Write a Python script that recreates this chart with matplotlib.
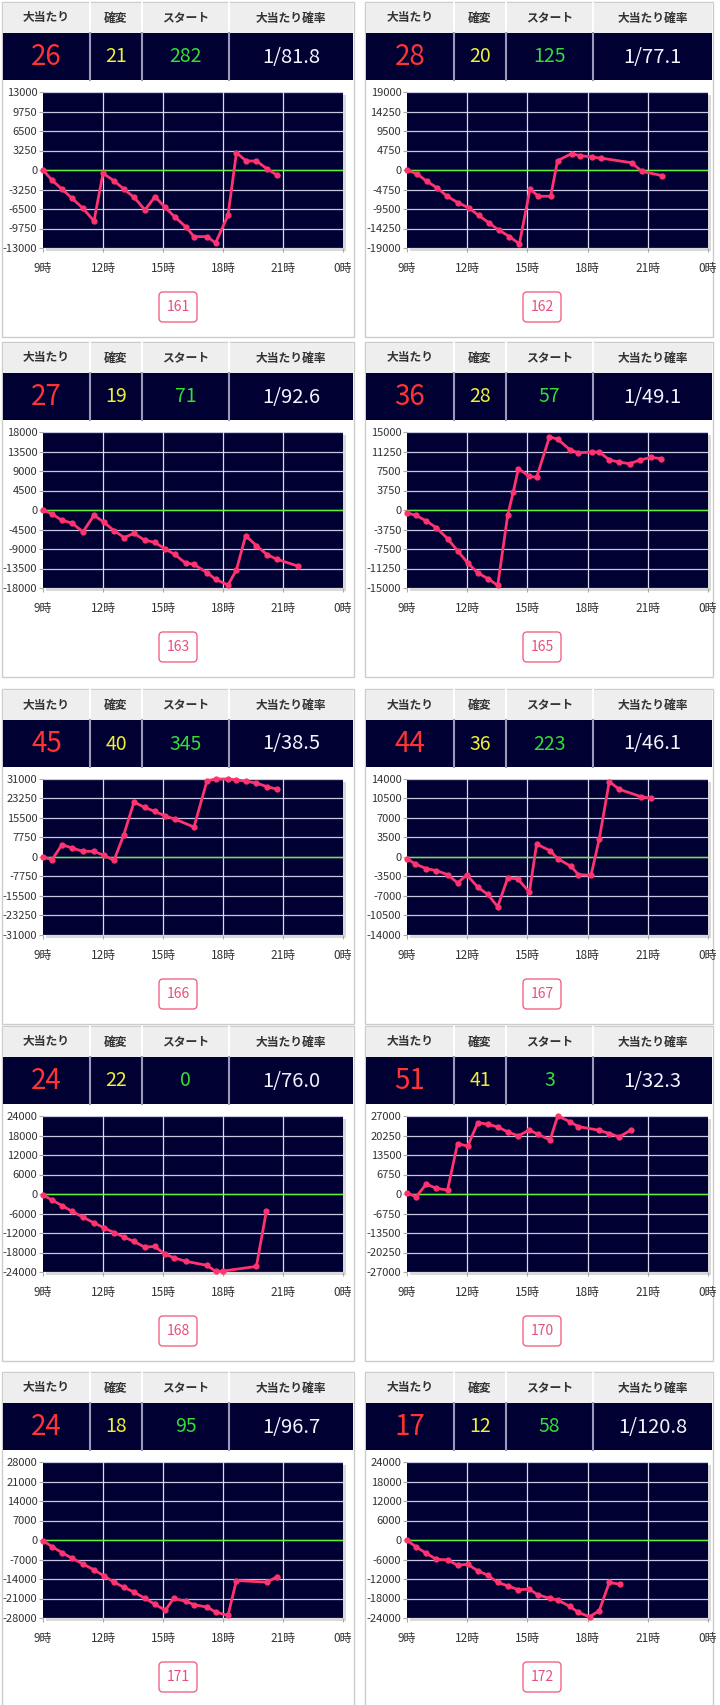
import matplotlib
matplotlib.use('Agg')
import matplotlib.pyplot as plt
from matplotlib.patches import Rectangle, FancyBboxPatch

plt.rcParams['font.family'] = ['Noto Sans CJK JP', 'DejaVu Sans']
plt.rcParams['axes.unicode_minus'] = False

# 台番号と集計値
machine_ids = [161, 162, 163, 165, 166, 167, 168, 170, 171, 172]
big_hits = [26, 28, 27, 36, 45, 44, 24, 51, 24, 17]
kakuhen = [21, 20, 19, 28, 40, 36, 22, 41, 18, 12]
starts = [282, 125, 71, 57, 345, 223, 0, 3, 95, 58]
hit_rates = ['1/81.8', '1/77.1', '1/92.6', '1/49.1', '1/38.5',
             '1/46.1', '1/76.0', '1/32.3', '1/96.7', '1/120.8']
y_limits = [13000, 19000, 18000, 15000, 31000, 14000, 24000, 27000, 28000, 24000]
col_labels = ['大当たり', '確変', 'スタート', '大当たり確率']
hour_ticks = [9, 12, 15, 18, 21, 24]
hour_labels = ['9時', '12時', '15時', '18時', '21時', '0時']

# グラフの点 (時刻, 差枚)
hours_161 = [9.0, 9.45, 9.95, 10.45, 11.0, 11.55, 12.0, 12.55, 13.05, 13.55, 14.1, 14.6,
             15.1, 15.6, 16.15, 16.55, 17.2, 17.63, 18.25, 18.67, 19.17, 19.67, 20.2, 20.72]
vals_161 = [0, -1700, -3200, -4700, -6400, -8500, -550, -1800, -3200, -4550, -6650, -4450,
            -6200, -7850, -9500, -11100, -11100, -12150, -7550, 2850, 1500, 1500, 200, -900]

hours_162 = [9.0, 9.5, 10.0, 10.5, 11.0, 11.55, 12.07, 12.57, 13.07, 13.56, 14.1, 14.6,
             15.13, 15.55, 16.16, 16.5, 17.2, 17.6, 18.24, 18.66, 20.2, 20.7, 21.7]
vals_162 = [0, -960, -2800, -4330, -6400, -8000, -9200, -11060, -12830, -14600, -16200, -18000,
            -4650, -6400, -6400, 2250, 4000, 3530, 3130, 2900, 1760, -320, -1360]

hours_163 = [9.0, 9.45, 9.95, 10.45, 11.0, 11.55, 12.05, 12.55, 13.05, 13.55, 14.08, 14.58,
             15.08, 15.58, 16.13, 16.53, 17.2, 17.63, 18.25, 18.67, 19.13, 19.67, 20.2, 20.72, 21.75]
vals_163 = [0, -900, -2400, -3000, -5050, -1200, -2850, -4750, -6350, -5400, -6950, -7450,
            -8900, -10250, -12250, -12500, -14450, -16000, -17300, -13850, -5950, -8200,
            -10300, -11400, -12950]

hours_165 = [9.0, 9.46, 9.96, 10.46, 11.02, 11.52, 12.03, 12.53, 13.03, 13.52, 14.02, 14.3,
             14.55, 15.1, 15.46, 16.1, 16.5, 17.12, 17.53, 18.2, 18.58, 19.08, 19.58, 20.1,
             20.63, 21.15, 21.68]
vals_165 = [-550, -1050, -2100, -3400, -5500, -7850, -10200, -12100, -13200, -14500, -950, 3550,
            7950, 6450, 6300, 14050, 13650, 11600, 11000, 11150, 11150, 9650, 9200, 8900,
            9650, 10100, 9900]

hours_166 = [9.0, 9.45, 9.95, 10.45, 11.0, 11.55, 12.05, 12.55, 13.03, 13.55, 14.08, 14.58,
             15.08, 15.58, 16.55, 17.2, 17.63, 18.25, 18.67, 19.17, 19.67, 20.2, 20.72]
vals_166 = [0, -1060, 4900, 3580, 2250, 2250, 660, -1320, 8600, 21850, 19700, 18150,
            16400, 15100, 11900, 30300, 31000, 31000, 30700, 30050, 29400, 27950, 26900]

hours_167 = [9.0, 9.41, 9.96, 10.46, 11.02, 11.52, 11.98, 12.53, 13.03, 13.52, 14.02, 14.52,
             15.1, 15.46, 16.13, 16.51, 17.17, 17.54, 18.17, 18.58, 19.08, 19.58, 20.65, 21.15]
vals_167 = [-300, -1250, -2080, -2440, -3160, -4650, -3220, -5420, -6730, -8930, -3750, -3930,
            -6310, 2320, 1130, -300, -1670, -3160, -3280, 3220, 13520, 12150, 10840, 10540]

hours_168 = [9.0, 9.45, 9.95, 10.45, 11.0, 11.55, 12.05, 12.55, 13.03, 13.55, 14.08, 14.58,
             15.08, 15.53, 16.17, 17.2, 17.63, 18.0, 19.67, 20.17]
vals_168 = [-300, -1840, -3580, -5310, -7150, -8890, -10420, -11850, -13180, -14610, -16340, -16140,
            -18390, -19610, -20740, -21960, -23800, -23700, -22300, -5200]

hours_170 = [9.0, 9.46, 9.96, 10.46, 11.02, 11.52, 12.02, 12.53, 13.03, 13.52, 14.02, 14.55,
             15.1, 15.51, 16.13, 16.51, 17.12, 17.53, 18.58, 19.08, 19.58, 20.14]
vals_170 = [230, -920, 3450, 1950, 1380, 17470, 16550, 24700, 24140, 23220, 21490, 20110,
            22180, 20690, 18730, 27000, 25040, 23330, 22070, 20920, 19770, 22070]

hours_171 = [9.0, 9.45, 9.95, 10.45, 11.0, 11.55, 12.05, 12.55, 13.03, 13.55, 14.08, 14.58,
             15.12, 15.53, 16.17, 16.55, 17.2, 17.63, 18.25, 18.67, 20.2, 20.72]
vals_171 = [-240, -2380, -4530, -6560, -8580, -10730, -12870, -15140, -16920, -18710, -20860, -23000,
            -25270, -20980, -22050, -23240, -24080, -25870, -27060, -14540, -15140, -13110]

hours_172 = [9.0, 9.46, 9.96, 10.46, 11.02, 11.52, 12.02, 12.53, 13.03, 13.52, 14.02, 14.55,
             15.1, 15.51, 16.13, 16.51, 17.12, 17.53, 18.1, 18.58, 19.08, 19.61]
vals_172 = [-100, -2150, -4090, -5920, -6130, -7760, -7460, -9500, -10830, -13070, -14100, -15320,
            -15120, -16850, -17980, -18490, -20430, -22270, -23600, -21760, -13070, -13590]

series = [(hours_161, vals_161), (hours_162, vals_162), (hours_163, vals_163),
          (hours_165, vals_165), (hours_166, vals_166), (hours_167, vals_167),
          (hours_168, vals_168), (hours_170, vals_170), (hours_171, vals_171),
          (hours_172, vals_172)]

W, H = 720, 1705
fig = plt.figure(figsize=(W / 100, H / 100), dpi=100)
bg = fig.add_axes([0, 0, 1, 1])
bg.set_xlim(0, W)
bg.set_ylim(H, 0)
bg.axis('off')

row_tops = [2, 342, 689, 1026, 1372]
columns = [
    dict(x0=2, x1=354, divs=[90, 142, 229], px0=43, px1=343, box_cx=178),
    dict(x0=365, x1=713, divs=[454, 506, 593], px0=407, px1=708, box_cx=542),
]
navy = '#000033'
value_styles = [dict(color='#ff3333', size=20), dict(color='#eeee33', size=14),
                dict(color='#33dd33', size=14), dict(color='#f4f4ff', size=14.5)]

for i, mid in enumerate(machine_ids):
    top = row_tops[i // 2]
    c = columns[i % 2]
    x0, x1 = c['x0'], c['x1']

    # 枠
    bg.add_patch(Rectangle((x0, top), x1 - x0, 335, fc='white', ec='#cccccc', lw=1))
    # 見出し行
    bg.add_patch(Rectangle((x0 + 1, top + 1), x1 - x0 - 2, 30, fc='#eeeeee', ec='none'))
    bg.add_patch(Rectangle((x0 + 1, top + 31), x1 - x0 - 2, 47, fc=navy, ec='none'))
    for d in c['divs']:
        bg.plot([d, d], [top + 1, top + 31], color='white', lw=1.5)
        bg.plot([d, d], [top + 31, top + 78], color='#9a9abb', lw=1.5)
    edges = [x0 + 1] + c['divs'] + [x1 - 1]
    vals = [big_hits[i], kakuhen[i], starts[i], hit_rates[i]]
    for k in range(4):
        cx = (edges[k] + edges[k + 1]) / 2
        bg.text(cx, top + 16, col_labels[k], ha='center', va='center',
                fontsize=8.5, fontweight='bold', color='#333333')
        st = value_styles[k]
        bg.text(cx, top + 55, str(vals[k]), ha='center', va='center',
                fontsize=st['size'], color=st['color'])

    # グラフ
    px0, px1 = c['px0'], c['px1']
    py0, py1 = top + 90, top + 246
    bg.add_patch(Rectangle((px0 + 3, py0 + 3), px1 - px0, py1 - py0, fc='#d9d9d9', ec='none'))
    ax = fig.add_axes([px0 / W, 1 - py1 / H, (px1 - px0) / W, (py1 - py0) / H])
    ax.set_facecolor(navy)
    ymax = y_limits[i]
    yt = [ymax * (k - 4) / 4 for k in range(9)]
    ax.set_xlim(9, 24)
    ax.set_ylim(-ymax, ymax)
    ax.set_yticks(yt)
    ax.set_yticklabels([str(int(v)) for v in yt])
    ax.set_xticks(hour_ticks)
    ax.set_xticklabels(hour_labels)
    for v in yt:
        ax.axhline(v, color='#c8c8e2', lw=0.9, zorder=1)
    for h in hour_ticks[1:-1]:
        ax.axvline(h, color='#dcdcf0', lw=0.9, zorder=1)
    ax.axhline(0, color='#66ee33', lw=1.0, zorder=2)
    hrs, ys = series[i]
    ax.plot(hrs, ys, color='#ff3370', lw=2.0, marker='o', ms=3.5, zorder=3, clip_on=False)
    for s in ax.spines.values():
        s.set_visible(False)
    ax.tick_params(axis='y', length=3, pad=1, labelsize=8, colors='#333333', color='#aaaaaa')
    ax.tick_params(axis='x', length=3, pad=7, labelsize=8.5, colors='#333333', color='#aaaaaa')

    # 台番号ボタン
    bx = c['box_cx']
    bg.add_patch(FancyBboxPatch((bx - 19, top + 290), 38, 30,
                                boxstyle='round,pad=0,rounding_size=4',
                                fc='white', ec='#f06585', lw=1))
    bg.text(bx, top + 305, str(mid), ha='center', va='center', fontsize=10, color='#e8507a')

fig.savefig('out.png', dpi=100)
